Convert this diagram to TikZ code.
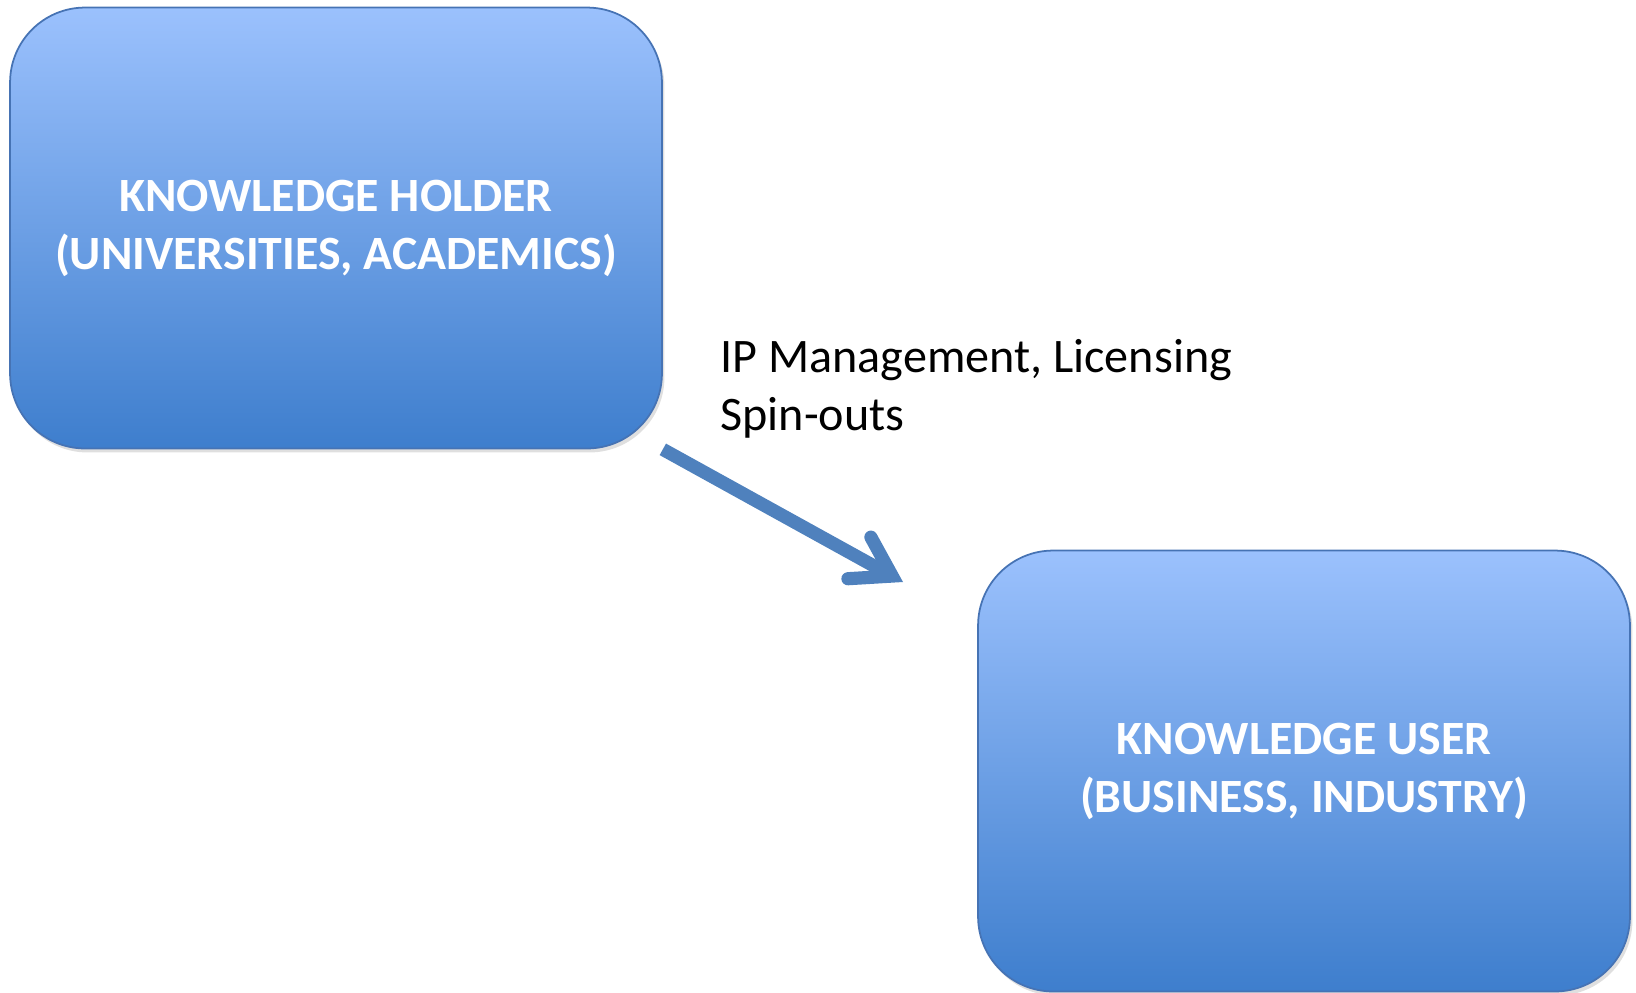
\documentclass[tikz,border=0pt]{standalone}
\usepackage{fontspec}
\setmainfont{Carlito}
\usepackage{tikz}
\definecolor{boxtop}{RGB}{155, 193, 253}
\definecolor{boxbottom}{RGB}{62, 126, 205}
\definecolor{boxline}{RGB}{70, 115, 180}
\definecolor{flowblue}{RGB}{79, 129, 189}
\usetikzlibrary{arrows.meta, positioning, calc, shadows}

\begin{document}
\begin{tikzpicture}[x=0.02cm, y=-0.02cm,
    box/.style={draw=boxline, line width=1pt, rounded corners=1.5cm,
                top color=boxtop, bottom color=boxbottom,
                minimum width=13.04cm, minimum height=8.82cm, align=center,
                text=white, font=\bfseries\fontsize{27.2}{33}\selectfont,
                drop shadow={opacity=0.25, shadow xshift=0.05cm, shadow yshift=-0.08cm}},
    flow/.style={draw=flowblue, line width=7.5pt,
                 -{Straight Barb[length=0.75cm, width=0.95cm, line cap=round, line join=miter]}}
]
    \useasboundingbox (0,0) rectangle (1636,992);

    % Holder Box
    \node[box] (holder) at (336,228) {KNOWLEDGE HOLDER\\(UNIVERSITIES, ACADEMICS)};

    % User Box
    \node[box] (user) at (1304,771) {KNOWLEDGE USER\\(BUSINESS, INDUSTRY)};

    % Label
    \node[anchor=north west, align=left, inner sep=0pt,
          font=\fontsize{27.4}{33}\selectfont] (transfer) at (720,339)
          {IP Management, Licensing\\Spin-outs};

    % Arrow
    \coordinate (tip) at (903,582);
    \draw[flow] (holder.south east) -- (tip);
\end{tikzpicture}
\end{document}
